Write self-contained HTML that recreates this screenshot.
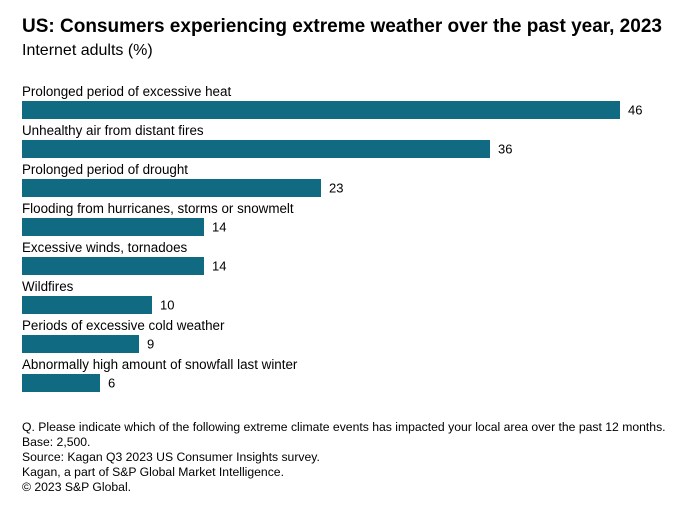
<!DOCTYPE html>
<html><head><meta charset="utf-8"><style>
body{margin:0;background:#fff;font-family:"Liberation Sans",sans-serif;}
#wrap{position:relative;width:688px;height:509px;overflow:hidden;}
.t{position:absolute;white-space:nowrap;color:#000;}
</style></head><body>
<div id="wrap">
<div class="t" style="left:22px;top:16px;font-size:19px;font-weight:bold;">US: Consumers experiencing extreme weather over the past year, 2023</div>
<div class="t" style="left:22px;top:42px;font-size:16px;">Internet adults (%)</div>
<svg id="svg" width="688" height="400" style="position:absolute;left:0;top:0"></svg>
<div style="position:absolute;left:22px;top:420px;font-size:12.2px;line-height:15px;color:#000;">
Q. Please indicate which of the following extreme climate events has impacted your local area over the past 12 months.<br>Base: 2,500.<br>Source: Kagan Q3 2023 US Consumer Insights survey.<br>Kagan, a part of S&amp;P Global Market Intelligence.<br>© 2023 S&amp;P Global.</div>
</div>
<script>
const categories=["Prolonged period of excessive heat","Unhealthy air from distant fires","Prolonged period of drought","Flooding from hurricanes, storms or snowmelt","Excessive winds, tornadoes","Wildfires","Periods of excessive cold weather","Abnormally high amount of snowfall last winter"];
const values=[46,36,23,14,14,10,9,6];
const svg=document.getElementById('svg');
const NS='http://www.w3.org/2000/svg';
const x0=22,scale=13.0,top0=101,step=39,bh=18;
function xw(v){return v*scale;}
function yb(i){return top0+i*step;}
categories.forEach((c,i)=>{
 const t=document.createElementNS(NS,'text');
 
 
 t.setAttribute('x',x0);t.setAttribute('y',yb(i)-5);
 t.setAttribute('font-size','13.4');t.setAttribute('font-family','Liberation Sans, sans-serif');
 t.textContent=c;svg.appendChild(t);
 const r=document.createElementNS(NS,'rect');
 
 
 r.setAttribute('x',x0);r.setAttribute('y',yb(i));r.setAttribute('width',xw(values[i]));r.setAttribute('height',bh);
 r.setAttribute('fill','#0f6a82');svg.appendChild(r);
 const v=document.createElementNS(NS,'text');
 
 
 v.setAttribute('x',x0+xw(values[i])+8);v.setAttribute('y',yb(i)+bh/2+4.5);
 v.setAttribute('font-size','13');v.setAttribute('font-family','Liberation Sans, sans-serif');
 v.textContent=values[i];svg.appendChild(v);
});
</script>
</body></html>
